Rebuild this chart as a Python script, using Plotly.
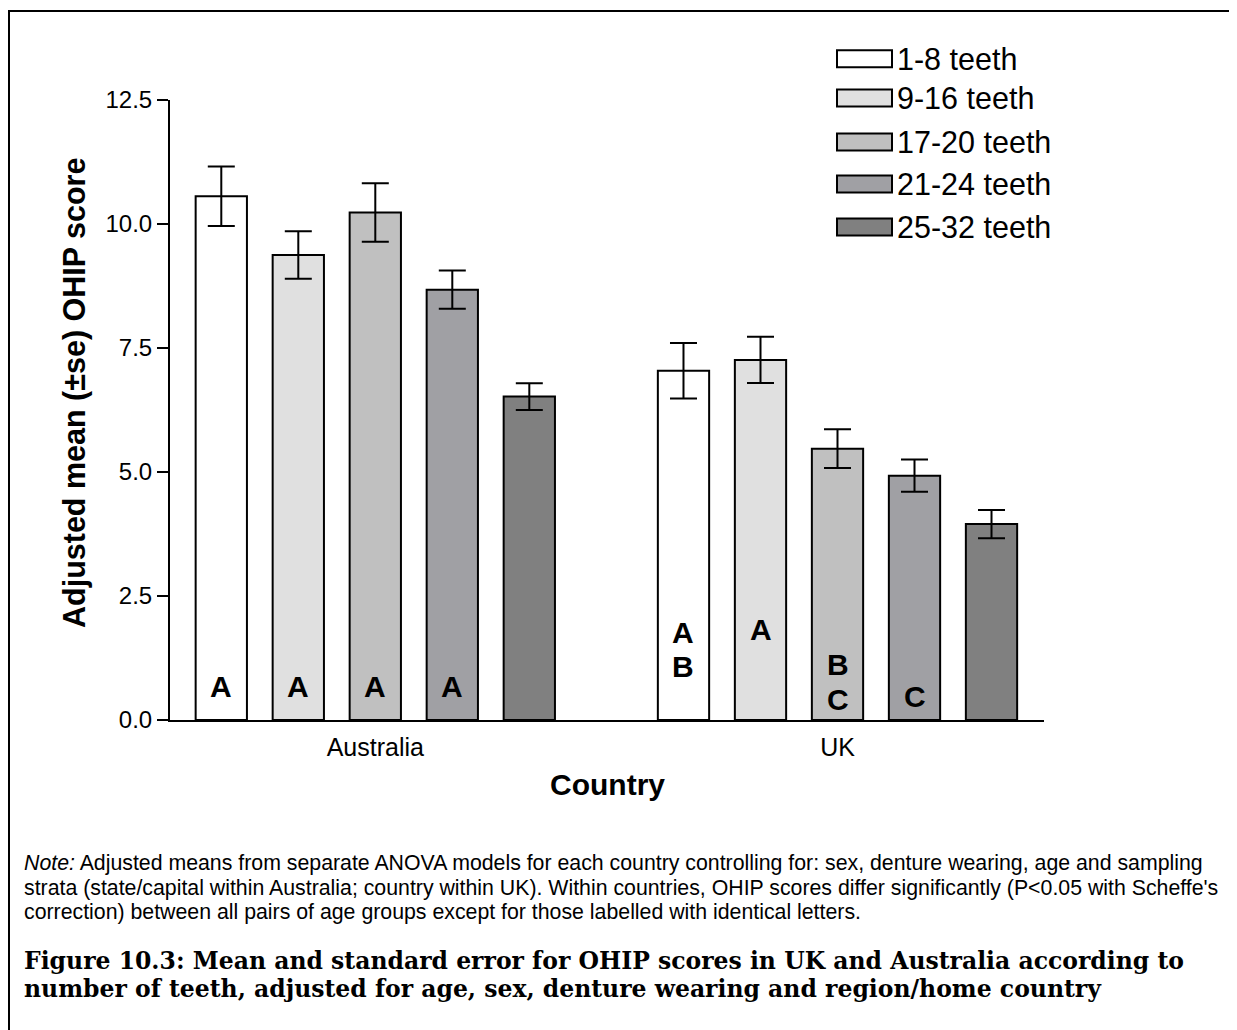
import plotly.graph_objects as go

# ---------------- data ----------------
countries = ["Australia", "UK"]
series_names = ["1-8 teeth", "9-16 teeth", "17-20 teeth", "21-24 teeth", "25-32 teeth"]
aus_mean = [10.56, 9.375, 10.23, 8.675, 6.52]
aus_se = [0.60, 0.48, 0.59, 0.385, 0.27]
uk_mean = [7.04, 7.26, 5.47, 4.925, 3.95]
uk_se = [0.56, 0.465, 0.39, 0.325, 0.285]
bar_colors = ["#ffffff", "#e0e0e0", "#c0c0c0", "#a0a0a4", "#808080"]

aus_letters = [["A"], ["A"], ["A"], ["A"], []]
aus_letter_y = [[0.685], [0.685], [0.685], [0.685], []]
uk_letters = [["A", "B"], ["A"], ["B", "C"], ["C"], []]
uk_letter_y = [[1.774, 1.069], [1.815], [1.109, 0.423], [0.464], []]

y_ticks = [0.0, 2.5, 5.0, 7.5, 10.0, 12.5]

note_lines = [
    "<i>Note:</i> Adjusted means from separate ANOVA models for each country controlling for: sex, denture wearing, age and sampling",
    "strata (state/capital within Australia; country within UK). Within countries, OHIP scores differ significantly (P&lt;0.05 with Scheffe's",
    "correction) between all pairs of age groups except for those labelled with identical letters.",
]
caption_lines = [
    "Figure 10.3: Mean and standard error for OHIP scores in UK and Australia according to",
    "number of teeth, adjusted for age, sex, denture wearing and region/home country",
]

# ---------------- layout geometry (page pixel coordinates) ----------------
OFF = 8                      # page body margin
W, H = 1237 - OFF, 1030 - OFF
L, R, T, B = 170, 1044, 100, 720   # plot area in page coordinates
PW, PH = R - L, B - T


def PX(px):
    return (px - L) / PW


def PY(py):
    return (B - py) / PH


BARGAP = 0.167
BARGROUPGAP = 0.334
SLOT = (1 - BARGAP) / len(series_names)

SANS = "Arial, Liberation Sans, sans-serif"
SERIF = "DejaVu Serif, serif"

fig = go.Figure()
for i, name in enumerate(series_names):
    fig.add_trace(go.Bar(
        name=name,
        x=countries,
        y=[aus_mean[i], uk_mean[i]],
        marker=dict(color=bar_colors[i], line=dict(color="black", width=2)),
        error_y=dict(type="data", array=[aus_se[i], uk_se[i]], color="black",
                     thickness=2, width=13.5),
        showlegend=False,
    ))

annotations = []
# significance letters inside bars
for gi, (letters, ys) in enumerate([(aus_letters, aus_letter_y), (uk_letters, uk_letter_y)]):
    for k in range(len(series_names)):
        xpos = gi + (k - (len(series_names) - 1) / 2) * SLOT
        for txt, yv in zip(letters[k], ys[k]):
            annotations.append(dict(
                x=xpos, y=yv, xref="x", yref="y", text="<b>%s</b>" % txt,
                showarrow=False, xanchor="center", yanchor="middle",
                font=dict(family=SANS, size=30, color="black")))

# axis titles
annotations.append(dict(
    x=PX(74), y=PY(393), xref="paper", yref="paper",
    text="<b>Adjusted mean (\u00b1se) OHIP score</b>", textangle=-90,
    showarrow=False, xanchor="center", yanchor="middle",
    font=dict(family=SANS, size=30.5, color="black")))
annotations.append(dict(
    x=PX(607), y=PY(785), xref="paper", yref="paper",
    text="<b>Country</b>", showarrow=False, xanchor="center", yanchor="middle",
    font=dict(family=SANS, size=30, color="black")))

# custom legend
legend_rows = [58.7, 98, 142, 184, 227]
shapes = []
for i, name in enumerate(series_names):
    yc = legend_rows[i]
    shapes.append(dict(type="rect", xref="paper", yref="paper",
                       x0=PX(837), x1=PX(892), y0=PY(yc + 8.5), y1=PY(yc - 8.5),
                       fillcolor=bar_colors[i], line=dict(color="black", width=2)))
    annotations.append(dict(
        x=PX(895), y=PY(yc), xref="paper", yref="paper", text=name,
        showarrow=False, xanchor="left", yanchor="middle",
        font=dict(family=SANS, size=30.5, color="black")))

# note text
note_centers = [863, 888, 912]
for line, yc in zip(note_lines, note_centers):
    annotations.append(dict(
        x=PX(22), y=PY(yc), xref="paper", yref="paper", text=line,
        showarrow=False, xanchor="left", yanchor="middle",
        font=dict(family=SANS, size=21.3, color="black")))

caption_centers = [961, 989]
for line, yc in zip(caption_lines, caption_centers):
    annotations.append(dict(
        x=PX(22), y=PY(yc), xref="paper", yref="paper", text="<b>%s</b>" % line,
        showarrow=False, xanchor="left", yanchor="middle",
        font=dict(family=SERIF, size=23.5, color="black")))

# frame lines (top and left)
shapes.append(dict(type="line", xref="paper", yref="paper",
                   x0=PX(8), x1=PX(1245), y0=PY(11), y1=PY(11),
                   line=dict(color="black", width=2)))
shapes.append(dict(type="line", xref="paper", yref="paper",
                   x0=PX(9), x1=PX(9), y0=PY(10), y1=PY(1040),
                   line=dict(color="black", width=2)))

x_lo = -(375.3 - L) / 462.2
x_hi = (R - 375.3) / 462.2

fig.update_layout(
    width=W, height=H,
    margin=dict(l=L - OFF, r=1237 - R, t=T - OFF, b=1030 - B, pad=0),
    paper_bgcolor="white", plot_bgcolor="white",
    barmode="group", bargap=BARGAP, bargroupgap=BARGROUPGAP,
    showlegend=False,
    annotations=annotations, shapes=shapes,
    xaxis=dict(type="category", range=[x_lo, x_hi], showline=True, linecolor="black",
               linewidth=2, ticks="", showgrid=False, zeroline=False,
               ticklabelstandoff=4,
               tickfont=dict(family=SANS, size=25, color="black"), fixedrange=True),
    yaxis=dict(range=[0, 12.5], tickvals=y_ticks, ticktext=["%.1f" % v for v in y_ticks],
               showline=True, linecolor="black", linewidth=2, ticks="outside",
               ticklen=11, tickwidth=2, tickcolor="black", showgrid=False, zeroline=False,
               tickfont=dict(family=SANS, size=24, color="black"), fixedrange=True),
)

fig.write_html("out.html")
